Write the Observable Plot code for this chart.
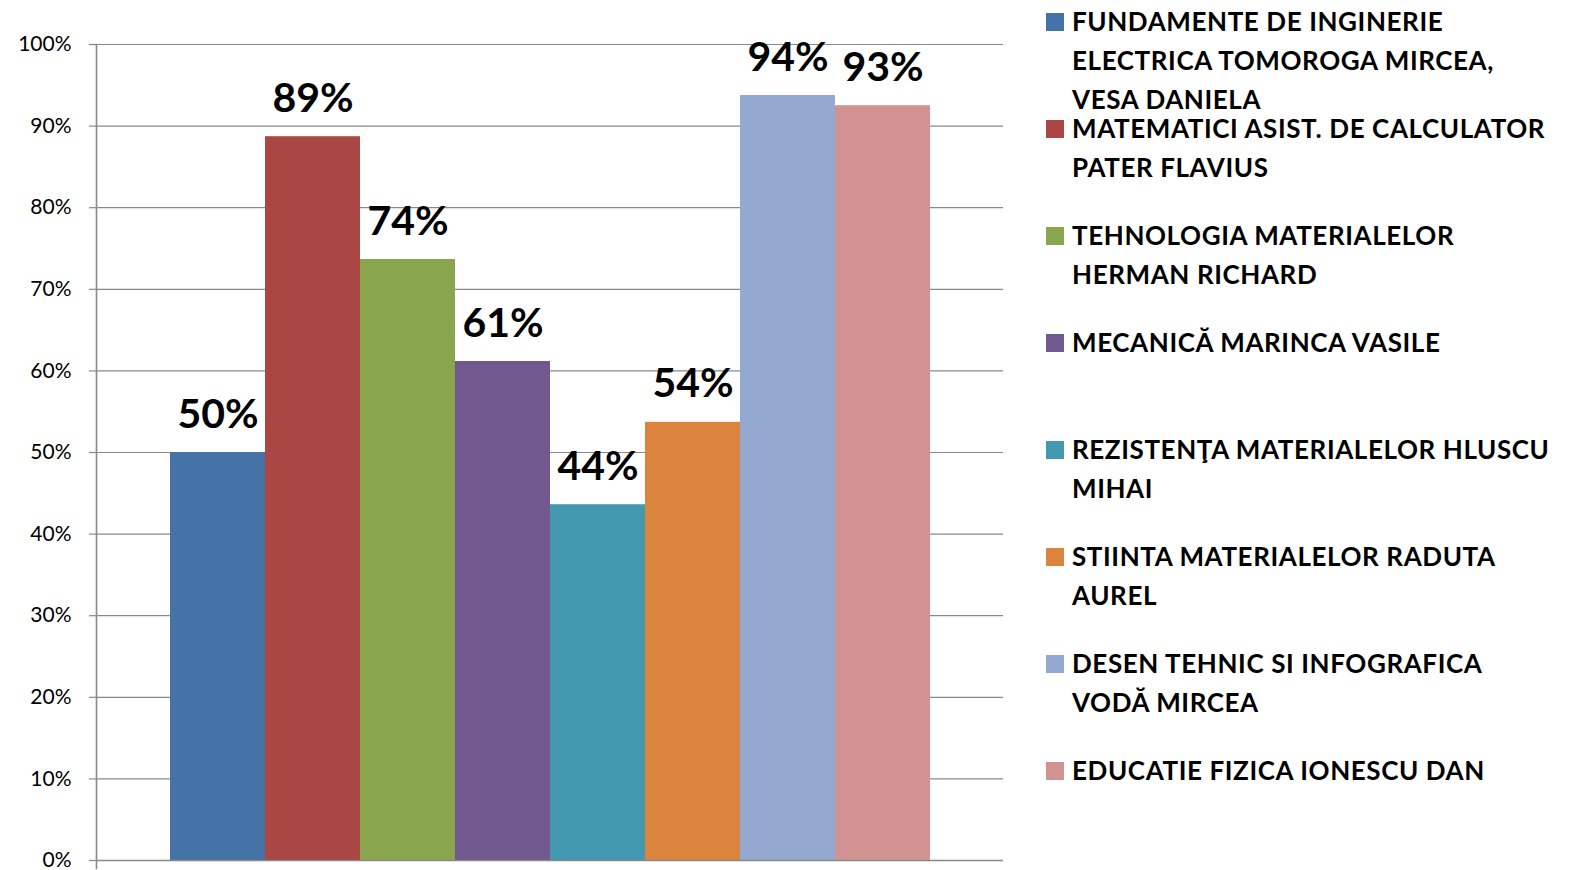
<!DOCTYPE html>
<html>
<head>
<meta charset="utf-8">
<script src="https://cdn.jsdelivr.net/npm/d3@7"></script>
<script src="https://cdn.jsdelivr.net/npm/@observablehq/plot@0.6"></script>
<style>
  html, body { margin: 0; padding: 0; background: #fff; }
  #wrap { position: relative; width: 1569px; height: 870px; font-family: Lato, "Open Sans", sans-serif; }
  #chart { position: absolute; left: 0; top: 0; }
  #legend { position: absolute; left: 1046px; top: 2px; }
  .item { position: relative; height: 107px; }
  .sw { position: absolute; left: 0; top: 11px; width: 18px; height: 18px; }
  .lab { position: absolute; left: 26px; top: 0; width: 486px; font-weight: 700; font-size: 26px; letter-spacing: 0.6px; line-height: 39px; color: #000; white-space: normal; }
</style>
</head>
<body>
<div id="wrap">
  <div id="chart"></div>
  <div id="legend"></div>
</div>
<script>
const subjects = [
  "FUNDAMENTE DE INGINERIE ELECTRICA TOMOROGA MIRCEA, VESA DANIELA",
  "MATEMATICI ASIST. DE CALCULATOR PATER FLAVIUS",
  "TEHNOLOGIA MATERIALELOR HERMAN RICHARD",
  "MECANICĂ MARINCA VASILE",
  "REZISTENŢA MATERIALELOR HLUSCU MIHAI",
  "STIINTA MATERIALELOR RADUTA AUREL",
  "DESEN TEHNIC SI INFOGRAFICA VODĂ MIRCEA",
  "EDUCATIE FIZICA IONESCU DAN"
];
const values = [0.500, 0.887, 0.7365, 0.6115, 0.436, 0.537, 0.9375, 0.925];
const valueLabels = ["50%", "89%", "74%", "61%", "44%", "54%", "94%", "93%"];
const colors = ["#4572A7", "#AA4643", "#89A54E", "#71588F", "#4198AF", "#DB843D", "#93A9CF", "#D19392"];
const yTicks = [0, 0.1, 0.2, 0.3, 0.4, 0.5, 0.6, 0.7, 0.8, 0.9, 1.0];

const data = subjects.map((s, i) => ({subject: s, value: values[i], label: valueLabels[i]}));
const gridColor = "#898989";

const chart = Plot.plot({
  width: 1020,
  height: 870,
  marginLeft: 96,
  marginRight: 17,
  marginTop: 44,
  marginBottom: 10,
  style: {fontFamily: "Lato, 'Open Sans', sans-serif", background: "transparent"},
  x: {domain: subjects, paddingInner: 0, paddingOuter: 0.755, axis: null},
  y: {domain: [0, 1], axis: null},
  color: {domain: subjects, range: colors},
  marks: [
    Plot.gridY(yTicks, {stroke: gridColor, strokeOpacity: 1, strokeWidth: 1.2}),
    Plot.axisY(yTicks, {label: null, tickSize: 7, tickPadding: 18, stroke: gridColor, strokeWidth: 1.2, fill: "#000", fontSize: 21, tickFormat: d3.format(".0%")}),
    Plot.barY(data, {x: "subject", y: "value", fill: "subject"}),
    Plot.ruleY([0], {stroke: gridColor, strokeWidth: 1.6}),
    Plot.frame({anchor: "left", stroke: gridColor, strokeWidth: 1.6, insetBottom: -8}),
    Plot.text(data, {x: "subject", y: "value", text: "label", lineAnchor: "bottom", dy: -25, fontSize: 41, fontWeight: 700, fill: "#000"})
  ]
});
document.getElementById("chart").appendChild(chart);

const legend = document.getElementById("legend");
subjects.forEach((s, i) => {
  const item = document.createElement("div");
  item.className = "item";
  const sw = document.createElement("div");
  sw.className = "sw";
  sw.style.background = colors[i];
  const lab = document.createElement("div");
  lab.className = "lab";
  lab.textContent = s;
  item.appendChild(sw);
  item.appendChild(lab);
  legend.appendChild(item);
});
</script>
</body>
</html>
